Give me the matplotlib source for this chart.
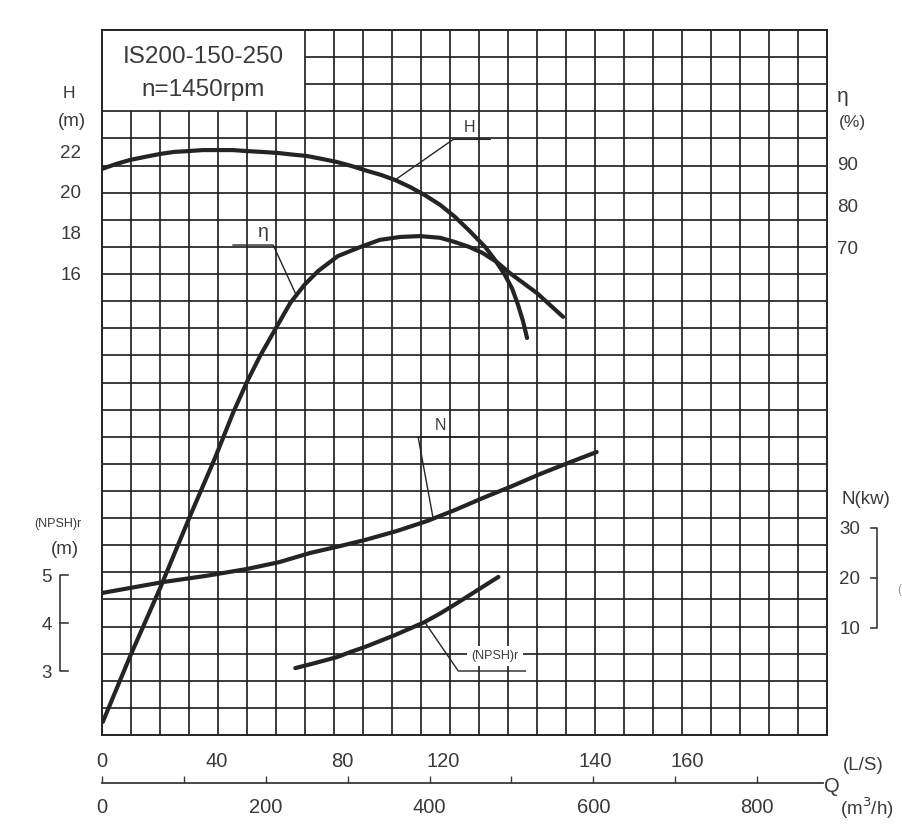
import numpy as np
import matplotlib.pyplot as plt
from matplotlib.transforms import blended_transform_factory

plt.rcParams['font.family'] = ['Liberation Sans', 'DejaVu Sans']

# ---- data (Q in m3/h) ----
q_head = [0, 17, 34, 52, 71, 88, 105, 123, 142, 160, 177, 195, 214, 232, 250, 269, 287,
          305, 324, 341, 358, 376, 394, 413, 431, 449, 468, 480, 492, 501, 508, 514, 519]
head = [21.14, 21.38, 21.58, 21.73, 21.88, 21.98, 22.02, 22.07, 22.07, 22.07, 22.02, 21.98,
        21.93, 21.85, 21.78, 21.63, 21.48, 21.28, 21.04, 20.84, 20.59, 20.25, 19.85, 19.36,
        18.77, 18.07, 17.28, 16.64, 15.90, 15.21, 14.42, 13.63, 12.79]

q_eff = [1, 34, 71, 107, 138, 160, 177, 193, 211, 230, 247, 264, 288, 315, 339, 364, 388,
         413, 431, 449, 465, 482, 498, 531, 563]
eff = [-41.5, -26.2, -10.0, 6.7, 20.6, 31.2, 38.5, 44.6, 50.7, 57.1, 61.3, 64.6, 68.1, 70.2,
       71.9, 72.6, 72.8, 72.4, 71.4, 70.2, 68.8, 66.7, 64.1, 59.4, 53.8]

q_power = [0, 34, 75, 126, 177, 217, 254, 291, 321, 360, 397, 431, 465, 501, 535, 569, 604]
power = [17.0, 18.0, 19.2, 20.4, 21.8, 23.2, 25.0, 26.4, 27.6, 29.4, 31.4, 33.6, 36.0, 38.4,
         40.8, 43.0, 45.2]

q_npsh = [236, 261, 287, 304, 321, 358, 394, 414, 434, 459, 484]
npsh = [3.06, 3.17, 3.29, 3.40, 3.50, 3.75, 4.02, 4.21, 4.42, 4.69, 4.96]

h_ticks = [16, 18, 20, 22]
eff_ticks = [70, 80, 90]
power_ticks = [10, 20, 30]
npsh_ticks = [3, 4, 5]

m3h_ticks = list(range(0, 801, 100))
m3h_labels = ['0', '', '200', '', '400', '', '600', '', '800']
ls_pos = [0, 140, 294, 416, 602, 715]       # where the L/S numbers sit on the m3/h scale
ls_labels = ['0', '40', '80', '120', '140', '160']

# ---- layout (pixels of the 903x835 picture) ----
W, H = 903, 835
X0, X1, Y0, Y1 = 102, 827, 30, 735   # grid frame
PX_Q = 0.819                          # px per m3/h
ink = '#242424'
txt = '#3a3a3a'
curve = dict(color=ink, lw=3.0, solid_capstyle='round', solid_joinstyle='round', zorder=3)


def fig_xy(x, y):
    return x / W, 1 - y / H


def ylim_for(val, py, px_per_unit):
    return val - (Y1 - py) / px_per_unit, val + (py - Y0) / px_per_unit


fig = plt.figure(figsize=(W / 100, H / 100), dpi=100)
rect = [X0 / W, 1 - Y1 / H, (X1 - X0) / W, (Y1 - Y0) / H]
ax = fig.add_axes(rect)
xmax = (X1 - X0) / PX_Q
ax.set_xlim(0, xmax)
ax.set_ylim(*ylim_for(16, 273, 20.25))

# grid with the title box cut out of the top-left corner
xs = np.linspace(0, xmax, 26)
ys = np.linspace(*ax.get_ylim(), 27)
for i, x in enumerate(xs[1:-1], start=1):
    top = ys[23] if i <= 6 else ys[-1]
    ax.vlines(x, ys[0], top, color=ink, lw=1.25, zorder=1)
for j, y in enumerate(ys[1:-1], start=1):
    left = xs[7] if j >= 24 else xs[0]
    ax.hlines(y, left, xs[-1], color=ink, lw=1.25, zorder=1)
for s in ax.spines.values():
    s.set_color(ink)
    s.set_linewidth(1.4)

ax.set_xticks([])
ax.set_yticks(h_ticks, [str(t) for t in h_ticks])
ax.tick_params(axis='y', length=0, pad=15, labelsize=13.5, labelcolor=txt)

ax.plot(q_head, head, **curve)

# efficiency
ax_e = ax.twinx()
ax_e.set_ylim(*ylim_for(70, 248, 4.25))
ax_e.plot(q_eff, eff, **curve)
ax_e.set_yticks(eff_ticks, [str(t) for t in eff_ticks])
ax_e.tick_params(axis='y', length=0, pad=7.5, labelsize=13.5, labelcolor=txt)

# shaft power
ax_n = ax.twinx()
ax_n.set_ylim(*ylim_for(10, 628, 5.0))
ax_n.plot(q_power, power, **curve)
ax_n.set_yticks(power_ticks, [str(t) for t in power_ticks])
ax_n.tick_params(axis='y', length=0, pad=9, labelsize=13.5, labelcolor=txt)

# NPSHr
ax_p = ax.twinx()
ax_p.set_ylim(*ylim_for(4, 623, 48.0))
ax_p.plot(q_npsh, npsh, **curve)
ax_p.yaxis.tick_left()
ax_p.set_yticks(npsh_ticks, [str(t) for t in npsh_ticks])
ax_p.tick_params(axis='y', length=0, pad=36, labelsize=13.5, labelcolor=txt)

for a in (ax_e, ax_n, ax_p):
    for s in a.spines.values():
        s.set_visible(False)
    a.set_xlim(0, xmax)
    a.set_xticks([])

# leader lines and curve names
lead = dict(color=ink, lw=1.0, zorder=4)
ax.plot([358, 429, 474], [20.6, 22.6, 22.6], **lead)
ax.text(449, 23.2, 'H', fontsize=11.5, color=txt, ha='center', va='center')
ax_e.plot([236, 209, 160], [59.4, 70.7, 70.7], **lead)
ax_e.text(197, 73.6, 'η', fontsize=14, color=txt, ha='center', va='center')
ax_n.plot([404, 386, 455], [32.2, 48.2, 48.2], **lead)
ax_n.text(413, 50.6, 'N', fontsize=11.5, color=txt, ha='center', va='center')
ax_p.plot([394, 435, 517], [4.02, 3.0, 3.0], **lead)
ax_p.text(480, 3.32, '(NPSH)r', fontsize=9, color=txt, ha='center', va='center', zorder=5,
          bbox=dict(facecolor='white', edgecolor='none', pad=3))

# brackets beside the N and NPSH scales
tr_p = blended_transform_factory(ax.transAxes, ax_p.transData)
bx0, bx1 = (60 - X0) / (X1 - X0), (68 - X0) / (X1 - X0)
ax_p.plot([bx1, bx0, bx0, bx1], [5, 5, 3, 3], transform=tr_p, color=txt, lw=1.2, clip_on=False)
ax_p.plot([bx0, bx1], [4, 4], transform=tr_p, color=txt, lw=1.2, clip_on=False)
tr_n = blended_transform_factory(ax.transAxes, ax_n.transData)
cx0, cx1 = (871 - X0) / (X1 - X0), (877 - X0) / (X1 - X0)
ax_n.plot([cx0, cx1, cx1, cx0], [30, 30, 10, 10], transform=tr_n, color=txt, lw=1.2, clip_on=False)
ax_n.plot([cx0, cx1], [20, 20], transform=tr_n, color=txt, lw=1.2, clip_on=False)

# title box text and axis names
fig.text(*fig_xy(203, 57), 'IS200-150-250', fontsize=17.5, color=txt, ha='center', va='center')
fig.text(*fig_xy(203, 90), 'n=1450rpm', fontsize=17.5, color=txt, ha='center', va='center')
fig.text(*fig_xy(69, 94), 'H', fontsize=12.5, color=txt, ha='center', va='center')
fig.text(*fig_xy(72, 122), '(m)', fontsize=13.5, color=txt, ha='center', va='center')
fig.text(*fig_xy(843, 97), 'η', fontsize=15, color=txt, ha='center', va='center')
fig.text(*fig_xy(852, 123), '(%)', fontsize=12.5, color=txt, ha='center', va='center')
fig.text(*fig_xy(866, 500), 'N(kw)', fontsize=13.5, color=txt, ha='center', va='center')
fig.text(*fig_xy(58, 524), '(NPSH)r', fontsize=9, color=txt, ha='center', va='center')
fig.text(*fig_xy(65, 550), '(m)', fontsize=13.5, color=txt, ha='center', va='center')
fig.text(*fig_xy(899, 590), '(', fontsize=9, color='#999999', ha='center', va='center')

# Q axis: m3/h below, L/S above
axq = fig.add_axes([X0 / W, 1 - 783 / H, (X1 - X0) / W, 1 / H])
axq.set_xlim(0, xmax)
axq.set_yticks([])
for side in ('top', 'left', 'right'):
    axq.spines[side].set_visible(False)
axq.spines['bottom'].set_bounds(0, (823 - X0) / PX_Q)
axq.spines['bottom'].set_color(txt)
axq.spines['bottom'].set_linewidth(1.3)
axq.set_xticks(m3h_ticks, m3h_labels)
axq.tick_params(axis='x', direction='in', length=5, width=1.0, color=txt,
                pad=11, labelsize=14.5, labelcolor=txt)
axl = axq.twiny()
axl.set_xlim(0, xmax)
for s in axl.spines.values():
    s.set_visible(False)
axl.set_xticks(ls_pos, ls_labels)
axl.tick_params(axis='x', length=0, pad=8, labelsize=14.5, labelcolor=txt)

fig.text(*fig_xy(832, 787), 'Q', fontsize=14.5, color=txt, ha='center', va='center')
fig.text(*fig_xy(863, 765), '(L/S)', fontsize=13.5, color=txt, ha='center', va='center')
fig.text(*fig_xy(867, 808), '(m$^3$/h)', fontsize=13.5, color=txt, ha='center', va='center')

fig.savefig('out.png', dpi=100, facecolor='white')
